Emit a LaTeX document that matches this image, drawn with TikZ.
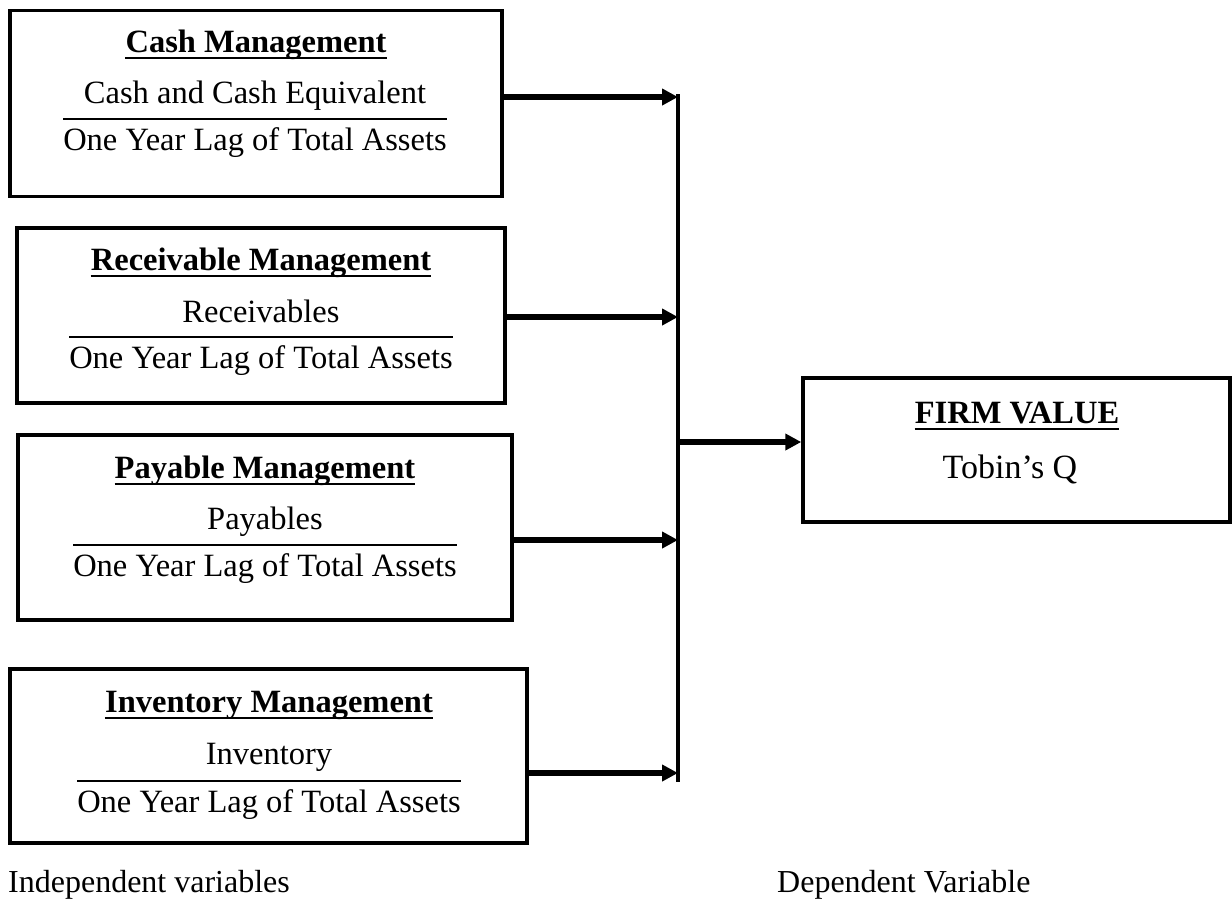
\documentclass[tikz,border=0pt]{standalone}
\usepackage{fontspec}
\setmainfont{Liberation Serif}
\usetikzlibrary{arrows.meta,positioning}
\tikzset{
    x=1pt, y=-1pt,
    box/.style ={draw, line width=3.5pt, inner sep=0pt},
    ttl/.style ={font=\bfseries\fontsize{32.5}{38}\selectfont, inner sep=0pt, anchor=base},
    txt/.style ={font=\fontsize{32.5}{38}\selectfont, inner sep=0pt, anchor=base},
    lbl/.style ={font=\fontsize{32}{38}\selectfont, inner sep=0pt, anchor=base west},
    ul/.style = {line width=2.8pt},
    bar/.style = {line width=2.8pt},
    bus/.style = {line width=4.5pt},
    arr/.style = {-{Triangle[length=16pt,width=16pt]}, line width=5.5pt}
}

\begin{document}
\begin{tikzpicture}
    \useasboundingbox (0,0) rectangle (1232,898);

    % independent variables
    \node[box, minimum width=492pt, minimum height=186pt] (cash) at (256,103.5) {};
    \node[ttl] (cashttl) at (256,52) {Cash Management};
    \node[txt] (cashnum) at (255,103) {Cash and Cash Equivalent};
    \node[txt] (cashden) at (255,150) {One Year Lag of Total Assets};

    \node[box, minimum width=488pt, minimum height=175pt] (rec) at (261,315.5) {};
    \node[ttl] (recttl) at (261,270) {Receivable Management};
    \node[txt] (recnum) at (261,322) {Receivables};
    \node[txt] (recden) at (261,368) {One Year Lag of Total Assets};

    \node[box, minimum width=494pt, minimum height=185pt] (pay) at (265,527.5) {};
    \node[ttl] (payttl) at (265,478) {Payable Management};
    \node[txt] (paynum) at (265,529) {Payables};
    \node[txt] (payden) at (265,576) {One Year Lag of Total Assets};

    \node[box, minimum width=517pt, minimum height=174pt] (inv) at (268.5,756) {};
    \node[ttl] (invttl) at (269,712) {Inventory Management};
    \node[txt] (invnum) at (269,764) {Inventory};
    \node[txt] (invden) at (269,812) {One Year Lag of Total Assets};

    % dependent variable
    \node[box, minimum width=427pt, minimum height=144pt] (firm) at (1016.5,450) {};
    \node[ttl] (firmttl) at (1017,423) {FIRM VALUE};
    \node[txt, font=\fontsize{34}{40}\selectfont] (firmnum) at (1010,478) {Tobin’s Q};

    \node[lbl] (indep) at (8,892) {Independent variables};
    \node[lbl] (dep) at (777,892) {Dependent Variable};

    \foreach \n in {cash,rec,pay,inv,firm}
        \draw[ul] ([yshift=-6pt]\n ttl.base west) -- ([yshift=-6pt]\n ttl.base east);
    \foreach \n in {cash,rec,pay,inv}
        \draw[bar] ([yshift=31pt]\n den.base west) -- ([yshift=31pt]\n den.base east);

    % bus line and arrows
    \coordinate (top) at (678,94);
    \coordinate (bot) at (678,782);
    \coordinate (b1) at (678,97);
    \coordinate (b2) at (678,317);
    \coordinate (b3) at (678,540);
    \coordinate (b4) at (678,773);
    \coordinate (hub) at (678,442);

    \draw[bus] (top) -- (bot);
    \draw[arr] (cash.east |- b1) -- (b1);
    \draw[arr] (rec.east |- b2) -- (b2);
    \draw[arr] (pay.east |- b3) -- (b3);
    \draw[arr] (inv.east |- b4) -- (b4);
    \draw[arr] (hub) -- (hub -| firm.west);
\end{tikzpicture}
\end{document}
